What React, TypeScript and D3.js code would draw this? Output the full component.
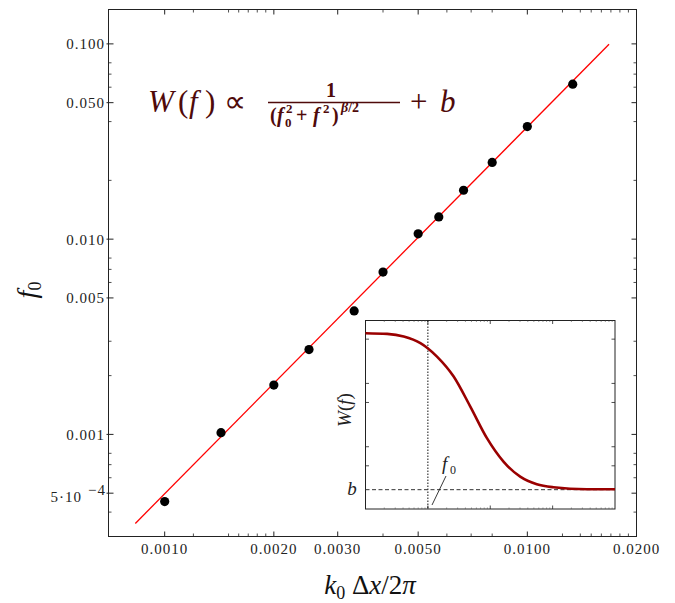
import React from "react";
import * as d3 from "d3";

// ---------- main data ----------
const kValues = [0.001, 0.00143, 0.002, 0.0025, 0.00333, 0.004, 0.005, 0.0057, 0.00667, 0.008, 0.01, 0.01334];
const f0Values = [0.000453, 0.00102, 0.00179, 0.00272, 0.00429, 0.00678, 0.01065, 0.013, 0.0178, 0.0247, 0.0377, 0.0622];
const fitK = [0.00083, 0.0168];
const fitF = [0.00035, 0.0995];

const xTickValues = [0.001, 0.002, 0.003, 0.005, 0.01, 0.02];
const xTickLabels = ["0.0010", "0.0020", "0.0030", "0.0050", "0.0100", "0.0200"];
const xMinorTicks = [0.0012, 0.0015, 0.0016, 0.0017, 0.0018, 0.0019, 0.004, 0.006, 0.007, 0.008, 0.0125, 0.014, 0.015, 0.016, 0.017, 0.018, 0.019];
const yTickValues = [0.1, 0.05, 0.01, 0.005, 0.001];
const yTickLabels = ["0.100", "0.050", "0.010", "0.005", "0.001"];
const yMinorTicks = [0.08, 0.07, 0.06, 0.04, 0.02, 0.008, 0.007, 0.006, 0.003, 0.002, 0.0008, 0.0007, 0.0006, 0.0004];
const ySciTick = 0.0005;

// ---------- inset data ----------
const insetF = [0.01, 0.0222, 0.041, 0.0759, 0.0993, 0.14, 0.259, 0.479, 0.885, 1.63, 3.02, 5.58, 10.3, 35.2, 100];
const insetW = [12.4, 12.1, 11.0, 8.65, 7.2, 5.31, 2.57, 0.861, 0.273, 0.1165, 0.0675, 0.0512, 0.0459, 0.0427, 0.0427];
const insetF0 = 0.1;
const insetB = 0.042;
const insetXTicks = [0.1, 1, 10];
const insetYTicks = [10, 2, 1, 0.2, 0.1];

const SERIF = "'Liberation Serif', 'Times New Roman', serif";
const MAROON = "#4f0a0a";

export default function App() {
  const L = 108.5, R = 636.5, T = 9.5, B = 536.5;
  const x = d3.scaleLog().domain([0.0007, 0.02]).range([L, R]);
  const y = d3.scaleLog().domain([0.0003, 0.15]).range([B, T]);

  const iL = 365.5, iR = 615, iT = 320.5, iB = 509;
  const ix = d3.scaleLog().domain([0.01, 100]).range([iL, iR]);
  const iy = d3.scaleLog().domain([0.0208, 19.7]).range([iB, iT]);

  const fitLine = d3.line<number>().x((_, i) => x(fitK[i])).y((d) => y(d))(fitF) || "";
  const curve = d3
    .line<number>()
    .x((_, i) => ix(insetF[i]))
    .y((d) => iy(d))
    .curve(d3.curveMonotoneX)(insetW) || "";

  const tickStroke = "#222";
  const insetMinorX: number[] = [];
  [0.01, 0.1, 1, 10].forEach((d) => [2, 3, 4, 5, 6, 7, 8, 9].forEach((m) => insetMinorX.push(d * m)));

  return (
    <svg width={675} height={603} style={{ position: "absolute", left: 0, top: 0, background: "#fff" }} fontFamily={SERIF}>
      <rect x={0} y={0} width={675} height={603} fill="#fff" />
      {/* frame */}
      <rect x={L} y={T} width={R - L} height={B - T} fill="none" stroke="#222" strokeWidth={1} />
      {/* x ticks */}
      {xTickValues.map((v) => (
        <g key={"xt" + v}>
          <line x1={x(v)} x2={x(v)} y1={B} y2={B - 5} stroke={tickStroke} />
          <line x1={x(v)} x2={x(v)} y1={T} y2={T + 5} stroke={tickStroke} />
        </g>
      ))}
      {xMinorTicks.map((v) => (
        <g key={"xm" + v}>
          <line x1={x(v)} x2={x(v)} y1={B} y2={B - 3} stroke={tickStroke} strokeWidth={0.8} />
          <line x1={x(v)} x2={x(v)} y1={T} y2={T + 3} stroke={tickStroke} strokeWidth={0.8} />
        </g>
      ))}
      {xTickValues.map((v, i) => (
        <text key={"xl" + v} x={x(v)} y={554} textAnchor="middle" fontSize={15} letterSpacing={1} fill="#222">
          {xTickLabels[i]}
        </text>
      ))}
      {/* y ticks */}
      {[...yTickValues, ySciTick].map((v) => (
        <g key={"yt" + v}>
          <line x1={L - 2} x2={L + 5} y1={y(v)} y2={y(v)} stroke={tickStroke} />
          <line x1={R} x2={R - 5} y1={y(v)} y2={y(v)} stroke={tickStroke} />
        </g>
      ))}
      {yMinorTicks.map((v) => (
        <g key={"ym" + v}>
          <line x1={L} x2={L + 3} y1={y(v)} y2={y(v)} stroke={tickStroke} strokeWidth={0.8} />
          <line x1={R} x2={R - 3} y1={y(v)} y2={y(v)} stroke={tickStroke} strokeWidth={0.8} />
        </g>
      ))}
      {yTickValues.map((v, i) => (
        <text key={"yl" + v} x={105} y={y(v) + 5.5} textAnchor="end" fontSize={15} letterSpacing={1} fill="#222">
          {yTickLabels[i]}
        </text>
      ))}
      <text x={82} y={y(ySciTick) + 8.5} textAnchor="end" fontSize={15} letterSpacing={1} fill="#222">
        5·10
      </text>
      <text x={88} y={y(ySciTick) + 2} fontSize={15} letterSpacing={1} fill="#222">
        −4
      </text>

      {/* fit line and points */}
      <path d={fitLine} fill="none" stroke="#ff0000" strokeWidth={1.3} />
      {kValues.map((k, i) => (
        <circle key={"p" + i} cx={x(k)} cy={y(f0Values[i])} r={4.6} fill="#000" />
      ))}

      {/* axis labels */}
      <text x={370} y={594} textAnchor="middle" fontSize={27} fill="#111">
        <tspan fontStyle="italic">k</tspan>
        <tspan fontSize={18} dy={5}>0</tspan>
        <tspan dy={-5}> Δ</tspan>
        <tspan fontStyle="italic">x</tspan>
        <tspan>/2</tspan>
        <tspan fontStyle="italic">π</tspan>
      </text>
      <text transform="translate(36,290) rotate(-90)" textAnchor="middle" fontSize={28} fill="#111">
        <tspan fontStyle="italic">f</tspan>
        <tspan fontSize={18} dy={5}>0</tspan>
      </text>

      {/* formula */}
      <g fill={MAROON} fontFamily={SERIF}>
        <text x={148} y={112} fontSize={31} fontStyle="italic">W</text>
        <text x={178} y={112} fontSize={31}>(</text>
        <text x={189} y={112} fontSize={31} fontStyle="italic">f</text>
        <text x={205} y={112} fontSize={31}>)</text>
        <text x={224} y={112} fontSize={31}>∝</text>
        <line x1={268} x2={400} y1={102.5} y2={102.5} stroke={MAROON} strokeWidth={1.6} />
        <text x={331} y={97} fontSize={20} fontWeight="bold" textAnchor="middle">1</text>
        <text x={270} y={122} fontSize={20} fontWeight="bold">(</text>
        <text x={277} y={122} fontSize={20} fontWeight="bold" fontStyle="italic">f</text>
        <text x={285} y={127} fontSize={13} fontWeight="bold">0</text>
        <text x={286} y={113} fontSize={13} fontWeight="bold">2</text>
        <text x={296} y={122} fontSize={20} fontWeight="bold">+</text>
        <text x={313} y={122} fontSize={20} fontWeight="bold" fontStyle="italic">f</text>
        <text x={323} y={113} fontSize={13} fontWeight="bold">2</text>
        <text x={332} y={122} fontSize={20} fontWeight="bold">)</text>
        <text x={341} y={112} fontSize={14} fontWeight="bold">
          <tspan fontStyle="italic">β</tspan>/2
        </text>
        <text x={410} y={112} fontSize={31}>+</text>
        <text x={440} y={112} fontSize={31} fontStyle="italic">b</text>
      </g>

      {/* inset */}
      <g>
        <rect x={iL} y={iT} width={iR - iL} height={iB - iT} fill="#fff" stroke="#222" strokeWidth={1} />
        {insetMinorX.map((v) => (
          <g key={"imx" + v}>
            <line x1={ix(v)} x2={ix(v)} y1={iB} y2={iB - 1.5} stroke="#555" strokeWidth={0.6} />
            <line x1={ix(v)} x2={ix(v)} y1={iT} y2={iT + 1.5} stroke="#555" strokeWidth={0.6} />
          </g>
        ))}
        {insetXTicks.map((v) => (
          <g key={"ixt" + v}>
            <line x1={ix(v)} x2={ix(v)} y1={iB} y2={iB - 3.5} stroke="#222" strokeWidth={0.8} />
            <line x1={ix(v)} x2={ix(v)} y1={iT} y2={iT + 3.5} stroke="#222" strokeWidth={0.8} />
          </g>
        ))}
        {insetYTicks.map((v) => (
          <g key={"iyt" + v}>
            <line x1={iL} x2={iL + 3.5} y1={iy(v)} y2={iy(v)} stroke="#222" strokeWidth={0.8} />
            <line x1={iR} x2={iR - 3.5} y1={iy(v)} y2={iy(v)} stroke="#222" strokeWidth={0.8} />
          </g>
        ))}
        <line x1={ix(insetF0)} x2={ix(insetF0)} y1={iT} y2={iB} stroke="#111" strokeWidth={1} strokeDasharray="1.5,1.5" />
        <line x1={iL} x2={iR} y1={iy(insetB)} y2={iy(insetB)} stroke="#333" strokeWidth={1} strokeDasharray="4,2.5" />
        <path d={curve} fill="none" stroke="#9a0000" strokeWidth={2.6} />
        <line x1={432} y1={505} x2={446} y2={476} stroke="#222" strokeWidth={0.9} />
        <text x={442} y={470} fontSize={19} fontStyle="italic" fill="#222">f</text>
        <text x={450} y={474} fontSize={12} fill="#222">0</text>
        <text x={352} y={iy(insetB) + 5} fontSize={19} fontStyle="italic" textAnchor="middle" fill="#222">b</text>
        <text transform="translate(351,410) rotate(-90)" textAnchor="middle" fontSize={19} fill="#222">
          <tspan fontStyle="italic">W</tspan>(<tspan fontStyle="italic">f</tspan>)
        </text>
      </g>
    </svg>
  );
}
